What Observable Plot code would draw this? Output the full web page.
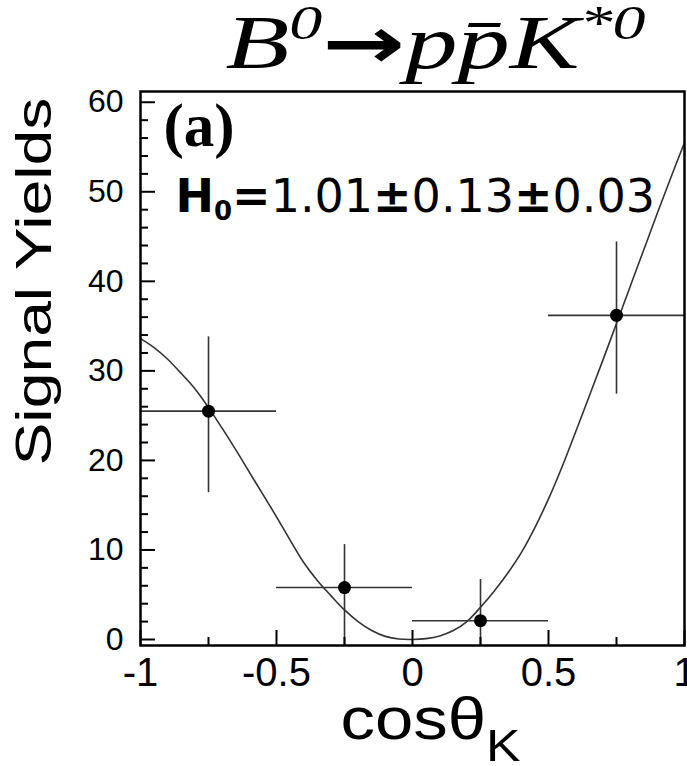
<!DOCTYPE html>
<html><head><meta charset="utf-8">
<script src="https://cdn.jsdelivr.net/npm/d3@7"></script>
<script src="https://cdn.jsdelivr.net/npm/@observablehq/plot@0.6"></script>
<style>html,body{margin:0;padding:0;background:#fff;overflow:hidden}</style>
</head><body><div id="chart"></div>
<script>
// ---- data ----
const binCenters = [-0.75, -0.25, 0.25, 0.75];
const binHalfWidth = [0.25, 0.25, 0.25, 0.25];
const yields = [25.5, 5.8, 2.1, 36.2];
const errUp = [8.3, 4.8, 4.6, 8.2];
const errDown = [9.1, 7.0, 4.6, 8.8];

const fitX = [-1,-0.95,-0.9,-0.85,-0.8,-0.75,-0.7,-0.65,-0.6,-0.55,-0.5,-0.45,-0.4,-0.35,-0.3,-0.25,-0.2,-0.15,-0.1,-0.05,0,0.05,0.1,0.15,0.2,0.25,0.3,0.35,0.4,0.45,0.5,0.55,0.6,0.65,0.7,0.75,0.8,0.85,0.9,0.95,1];
const fitY = [33.6,32.6,31.3,29.7,28.0,25.9,23.6,21.2,18.7,16.2,13.7,11.1,8.6,6.6,4.9,3.3,2.0,1.0,0.35,0.05,0,0.1,0.4,1.0,2.0,3.6,5.4,7.4,9.7,12.5,15.7,19.3,23.2,27.2,31.2,35.3,39.4,43.5,47.6,51.6,55.5];

const yMajorTicks = [0, 10, 20, 30, 40, 50, 60];
const yMinorTicks = [2,4,6,8,12,14,16,18,22,24,26,28,32,34,36,38,42,44,46,48,52,54,56,58];
const xMajorTicks = [-1, -0.5, 0, 0.5, 1];
const xMinorTicks = [-0.75, -0.25, 0.25, 0.75];

const titleText = "B0→pp̄K*0";
const panelText = "(a)";
const resultText = "H0=1.01±0.13±0.03";
const xLabel = "cosθK";
const yLabel = "Signal Yields";

// ---- tables ----
const points = binCenters.map((x, i) => ({
  x, y: yields[i],
  xlo: x - binHalfWidth[i], xhi: x + binHalfWidth[i],
  ylo: yields[i] - errDown[i], yhi: yields[i] + errUp[i]
}));
const fit = fitX.map((x, i) => ({x, y: fitY[i]}));

const SANS = "'Liberation Sans', Arial, Helvetica, sans-serif";
const SERIF = "'Liberation Serif', 'Times New Roman', serif";

const chart = Plot.plot({
  width: 687, height: 766,
  marginLeft: 140, marginRight: 3, marginTop: 91, marginBottom: 121,
  x: {domain: [-1, 1]},
  y: {domain: [-0.67, 61.2]},
  style: {fontFamily: SANS, background: "#fff", color: "#000", overflow: "visible"},
  marks: [
    Plot.line(fit, {x: "x", y: "y", stroke: "#333", strokeWidth: 1.6, curve: "catmull-rom", clip: true}),
    Plot.ruleY(points, {y: "y", x1: "xlo", x2: "xhi", stroke: "#333", strokeWidth: 1.6, clip: true}),
    Plot.ruleX(points, {x: "x", y1: "ylo", y2: "yhi", stroke: "#333", strokeWidth: 1.6, clip: true}),
    Plot.dot(points, {x: "x", y: "y", r: 6.5, fill: "#000"}),
    Plot.axisY({ticks: yMajorTicks, tickSize: -15, tickPadding: 32, fontSize: 32, label: null, strokeWidth: 2, tickFormat: d => String(d)}),
    Plot.axisY({ticks: yMinorTicks, tickSize: -8, label: null, strokeWidth: 2, tickFormat: () => ""}),
    Plot.axisX({ticks: xMajorTicks, tickSize: -15, tickPadding: 27, fontSize: 40, label: null, strokeWidth: 2, tickFormat: d => String(d)}),
    Plot.axisX({ticks: xMinorTicks, tickSize: -8, label: null, strokeWidth: 2, tickFormat: () => ""}),
    Plot.frame({stroke: "#000", strokeWidth: 2.5}),
    Plot.text([titleText], {frameAnchor: "top", textAnchor: "start", dx: -187, dy: -24, lineAnchor: "bottom", fontSize: 76, fontFamily: SERIF, fontStyle: "italic", fill: "#000"}),
    Plot.text([panelText], {frameAnchor: "top-left", textAnchor: "start", dx: 23, dy: 54, lineAnchor: "bottom", fontSize: 61, fontFamily: SERIF, fontWeight: "bold", fill: "#000"}),
    Plot.text([resultText], {frameAnchor: "top-left", textAnchor: "start", dx: 35, dy: 120, lineAnchor: "bottom", fontSize: 46, fontFamily: "'DejaVu Sans', Verdana, sans-serif", fill: "#000"}),
    Plot.text([xLabel], {frameAnchor: "bottom", textAnchor: "start", dx: -72, dy: 93, lineAnchor: "bottom", fontSize: 60, fontFamily: SANS, fill: "#000"}),
    Plot.text([yLabel], {frameAnchor: "left", textAnchor: "start", dx: -90, dy: 97, rotate: -90, lineAnchor: "bottom", fontSize: 50, fontFamily: SANS, fill: "#000"})
  ]
});
document.getElementById("chart").appendChild(chart);

// ---- rich text (sub/superscripts) ----
function rich(str, parts) {
  return d3.select(chart).selectAll("text").filter(function() { return this.textContent === str; }).each(function() {
    const sel = d3.select(this);
    sel.text(null);
    parts.forEach(p => {
      const ts = sel.append("tspan").text(p.t);
      if (p.dy) ts.attr("dy", p.dy);
      if (p.size) ts.attr("font-size", p.size);
      if (p.weight) ts.attr("font-weight", p.weight);
      if (p.style) ts.attr("font-style", p.style);
      if (p.family) ts.attr("font-family", p.family);
    });
  });
}
rich(titleText, [
  {t: "B"},
  {t: "0", size: 48, dy: -29},
  {t: "→", size: 72, dy: 29, weight: "bold", style: "normal", family: "'DejaVu Sans'"},
  {t: "pp̄K"},
  {t: "*0", size: 48, dy: -29},
]).attr("textLength", 420).attr("lengthAdjust", "spacingAndGlyphs");
rich(resultText, [
  {t: "H", weight: "bold"},
  {t: "0", size: 26, dy: 8, weight: "bold"},
  {t: "=", dy: -8, weight: "bold"},
  {t: "1.01"},
  {t: "±", weight: "bold"},
  {t: "0.13"},
  {t: "±", weight: "bold"},
  {t: "0.03"}
]);
rich(xLabel, [
  {t: "cosθ"},
  {t: "K", size: 45, dy: 22}
]).attr("textLength", 180).attr("lengthAdjust", "spacingAndGlyphs");
d3.select(chart).selectAll("text").filter(function() { return this.textContent === yLabel; })
  .attr("textLength", 368).attr("lengthAdjust", "spacingAndGlyphs");
</script>
</body></html>
